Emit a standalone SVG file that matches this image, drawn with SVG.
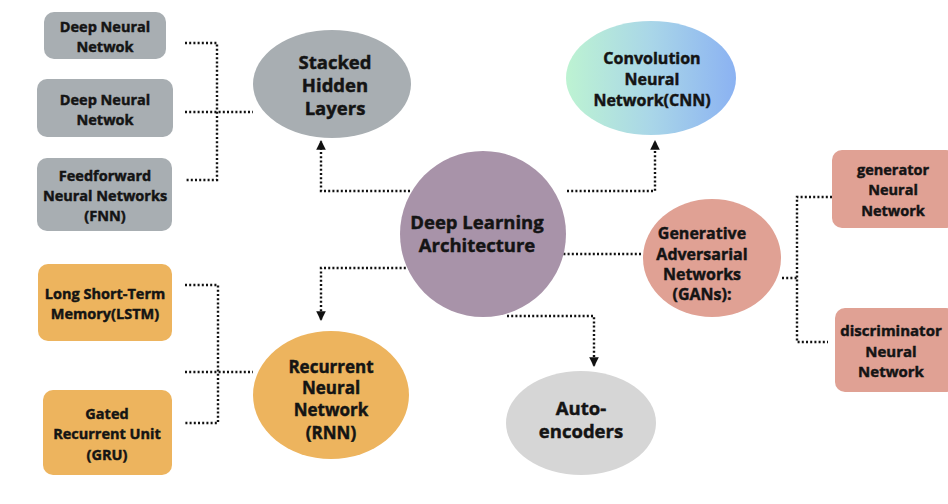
<svg xmlns="http://www.w3.org/2000/svg" width="948" height="504" viewBox="0 0 948 504">
  <defs>
    <linearGradient id="cnnGrad" x1="0" y1="0" x2="1" y2="0">
      <stop offset="0" stop-color="#bdf3d2"/>
      <stop offset="0.5" stop-color="#a9d6e8"/>
      <stop offset="1" stop-color="#8bb2f2"/>
    </linearGradient>
    <marker id="arrow" viewBox="0 0 10 10" refX="9" refY="5" markerWidth="4" markerHeight="4" orient="auto" markerUnits="strokeWidth">
      <path d="M0,0 L10,5 L0,10 z" fill="#111"/>
    </marker>
  </defs>
  <style>
    text { font-family: "Open Sans", "Noto Sans", "Liberation Sans", sans-serif; font-weight: 700; fill: #141414; stroke: #141414; stroke-width: 0.45; text-anchor: middle; dominant-baseline: central; }
    .s14 { font-size: 14.5px; }
    .s15 { font-size: 15px; }
    .s16 { font-size: 16px; }
    .s17 { font-size: 17px; }
    .s18 { font-size: 18.5px; }
    .grey { fill: #a8aeb2; }
    .orange { fill: #edb45e; }
    .salmon { fill: #e0a194; }
    .dot { fill: none; stroke: #111; stroke-width: 2.4; stroke-dasharray: 2 2.2; }
  </style>
  <rect width="948" height="504" fill="#ffffff"/>

  <!-- connectors -->
  <g id="connectors">
    <!-- stacked hidden layer variants -->
    <path class="dot" d="M185,43 H217 V180 H185"/>
    <path class="dot" d="M185,112 H253"/>
    <!-- recurrent variants -->
    <path class="dot" d="M185,285 H218 V423 H185"/>
    <path class="dot" d="M185,372 H253"/>
    <!-- GAN parts -->
    <path class="dot" d="M782,278 H797"/>
    <path class="dot" d="M832,197 H797 V342 H828"/>
    <!-- core to GAN -->
    <path class="dot" d="M555,254 H643"/>
    <!-- core to branches -->
    <path class="dot" d="M410,191 H321 V141" marker-end="url(#arrow)"/>
    <path class="dot" d="M567,191 H655 V141" marker-end="url(#arrow)"/>
    <path class="dot" d="M410,268 H321 V320" marker-end="url(#arrow)"/>
    <path class="dot" d="M507,316 H594 V366" marker-end="url(#arrow)"/>
  </g>

  <!-- left grey boxes -->
  <g id="dnn1">
    <rect class="grey" x="44" y="12" width="122" height="47" rx="10"/>
    <text class="s14" x="105" y="26">Deep Neural</text>
    <text class="s14" x="105" y="46">Netwok</text>
  </g>
  <g id="dnn2">
    <rect class="grey" x="37" y="79" width="136" height="58" rx="10"/>
    <text class="s14" x="105" y="99">Deep Neural</text>
    <text class="s14" x="105" y="119">Netwok</text>
  </g>
  <g id="fnn">
    <rect class="grey" x="37" y="158" width="135" height="73" rx="10"/>
    <text class="s14" x="105" y="175">Feedforward</text>
    <text class="s14" x="105" y="195">Neural Networks</text>
    <text class="s14" x="105" y="215">(FNN)</text>
  </g>

  <g id="stacked">
    <ellipse class="grey" cx="332" cy="84" rx="79" ry="54"/>
    <text class="s18" x="335" y="61">Stacked</text>
    <text class="s18" x="335" y="84">Hidden</text>
    <text class="s18" x="335" y="107">Layers</text>
  </g>

  <g id="cnn">
    <ellipse cx="651" cy="78" rx="85" ry="57" fill="url(#cnnGrad)"/>
    <text class="s16" x="652" y="58">Convolution</text>
    <text class="s16" x="652" y="79">Neural</text>
    <text class="s16" x="652" y="100">Network(CNN)</text>
  </g>

  <g id="core">
    <circle cx="483" cy="234" r="83" fill="#a893a9"/>
    <text class="s18" x="477" y="221">Deep Learning</text>
    <text class="s18" x="477" y="244">Architecture</text>
  </g>

  <g id="gan">
    <ellipse class="salmon" cx="712" cy="258" rx="69" ry="59"/>
    <text class="s16" x="702" y="233">Generative</text>
    <text class="s16" x="702" y="254">Adversarial</text>
    <text class="s16" x="702" y="274">Networks</text>
    <text class="s16" x="702" y="294">(GANs):</text>
  </g>

  <g id="generator">
    <rect class="salmon" x="832" y="150" width="124" height="78" rx="10"/>
    <text class="s14" x="893" y="169">generator</text>
    <text class="s14" x="893" y="189">Neural</text>
    <text class="s14" x="893" y="210">Network</text>
  </g>
  <g id="discriminator">
    <rect class="salmon" x="835" y="308" width="121" height="84" rx="10"/>
    <text class="s15" x="891" y="330">discriminator</text>
    <text class="s15" x="891" y="351">Neural</text>
    <text class="s15" x="891" y="371">Network</text>
  </g>

  <g id="lstm">
    <rect class="orange" x="38" y="264" width="134" height="77" rx="10"/>
    <text class="s14" x="105" y="293">Long Short-Term</text>
    <text class="s14" x="105" y="313">Memory(LSTM)</text>
  </g>
  <g id="gru">
    <rect class="orange" x="43" y="390" width="129" height="85" rx="10"/>
    <text class="s14" x="107" y="413">Gated</text>
    <text class="s14" x="107" y="433">Recurrent Unit</text>
    <text class="s14" x="107" y="454">(GRU)</text>
  </g>

  <g id="rnn">
    <ellipse class="orange" cx="331" cy="395" rx="78" ry="64"/>
    <text class="s17" x="331" y="366">Recurrent</text>
    <text class="s17" x="331" y="387">Neural</text>
    <text class="s17" x="331" y="409">Network</text>
    <text class="s17" x="331" y="432">(RNN)</text>
  </g>

  <g id="autoencoders">
    <ellipse cx="581" cy="423" rx="75" ry="52" fill="#d6d6d6"/>
    <text class="s18" x="581" y="407">Auto-</text>
    <text class="s18" x="581" y="430">encoders</text>
  </g>
</svg>
